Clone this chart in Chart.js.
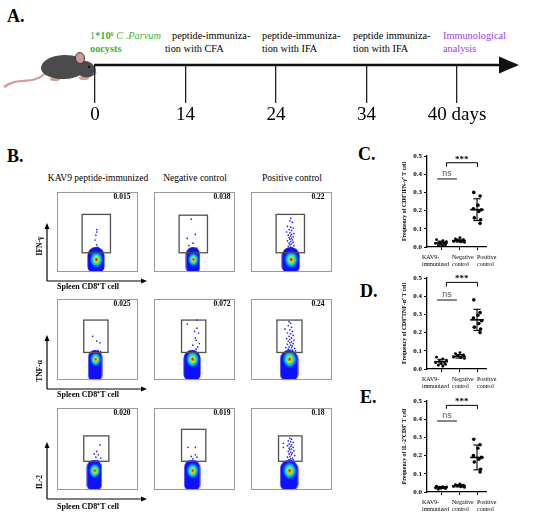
<!DOCTYPE html>
<html>
<head>
<meta charset="utf-8">
<script src="https://cdn.jsdelivr.net/npm/chart.js@4.4.1/dist/chart.umd.min.js"></script>
<style>
  body { margin: 0; background: #fff; }
  #fig { position: relative; width: 550px; height: 516px; overflow: hidden; font-family: "Liberation Serif", "Times New Roman", serif; color: #000; }
  #fig canvas { position: absolute; }
  .t { position: absolute; white-space: nowrap; line-height: 1; }
  .panel { font-weight: bold; font-size: 18px; }
  .ev { font-size: 10.3px; }
  .green { color: #35b535; }
  .purple { color: #9a3cf5; }
  .freq { font-weight: bold; font-size: 7.5px; transform: translateX(-50%); }
  .coltitle { font-size: 9.5px; transform: translateX(-50%); }
  .ylab { font-weight: bold; font-size: 7.5px; transform: translate(-50%, -50%) rotate(-90deg); }
  .xlab { font-weight: bold; font-size: 8px; }
</style>
</head>
<body>
<div id="fig">
  <div class="t panel" style="left:7px;top:7px">A.</div>
  <div class="t ev green" style="left:90px;top:31px">1<b>*10⁶</b> <i>C .Parvum</i></div>
  <div class="t ev green" style="left:90px;top:44px"><b>oocysts</b></div>
  <div class="t ev" style="left:172px;top:31px">peptide-immuniza-</div>
  <div class="t ev" style="left:165px;top:44px">tion with CFA</div>
  <div class="t ev" style="left:262px;top:31px">peptide-immuniza-</div>
  <div class="t ev" style="left:262px;top:44px">tion with IFA</div>
  <div class="t ev" style="left:353px;top:31px">peptide immuniza-</div>
  <div class="t ev" style="left:353px;top:44px">tion with IFA</div>
  <div class="t ev purple" style="left:443px;top:31px">Immunological</div>
  <div class="t ev purple" style="left:443px;top:44px">analysis</div>

  <div class="t panel" style="left:7px;top:147px">B.</div>
  <div class="t panel" style="left:358px;top:145px">C.</div>
  <div class="t panel" style="left:360px;top:282px">D.</div>
  <div class="t panel" style="left:360px;top:388px">E.</div>
</div>
<script>
// ---------- data ----------
// A: timeline (days)
var timeLabels = ['0', '14', '24', '34', '40 days'];

// B: flow cytometry
var flowCols = ['KAV9 peptide-immunized', 'Negative control', 'Positive control'];
var flowRows = ['IFN-γ', 'TNF-α', 'IL-2'];
var flowFreq = ['0.015', '0.038', '0.22', '0.025', '0.072', '0.24', '0.020', '0.019', '0.18'];
// gate: xmin, xmax, ymin, ymax (0-100 plot units)
var flowGates = [
  [31, 66, 24, 72], [31, 66, 24, 71], [31, 66, 24, 72],
  [33, 63, 34, 74], [34, 64, 34, 74], [32, 63, 34, 74],
  [33, 64, 35, 66], [34, 64, 35, 74], [34, 63, 35, 66]
];
// centre of the dense population
var flowCentres = [
  [48, 15], [48, 15], [49, 15],
  [47, 18], [47, 18], [47, 18],
  [46, 18], [47, 18], [47, 18]
];
// events inside the gate
var flowEvents = [
  [[49,53],[49,50],[48,46],[47,40],[49,34],[50,31],[48,28],[51,27]],
  [[46,66],[41,42],[51,47],[48,36],[53,30],[50,28],[43,33],[54,26]],
  [[49,67],[48,64],[51,62],[45,57],[49,56],[52,55],[47,53],[50,52],[44,50],[48,49],[53,48],[50,47],[46,46],[49,45],
   [52,44],[47,43],[50,42],[48,41],[51,40],[45,39],[49,38],[52,37],[47,36],[50,35],[48,34],[53,33],[46,32],[49,31],
   [51,30],[44,29],[48,28],[50,27],[53,26],[46,26],[49,25],[42,27],[55,28]],
  [[44,54],[49,48],[53,46],[51,36],[54,35],[47,36]],
  [[41,69],[53,74],[53,64],[55,58],[52,49],[56,45],[48,43],[54,41],[52,38],[49,36],[51,52],[50,60]],
  [[47,72],[49,70],[46,67],[50,65],[42,63],[48,62],[51,60],[45,58],[49,57],[52,55],[47,54],[50,52],[44,51],[48,50],
   [53,49],[46,48],[50,47],[48,46],[52,45],[45,44],[49,43],[51,42],[47,41],[50,40],[54,39],[46,38],[48,37],[51,37],
   [44,36],[49,35],[52,35],[47,34],[55,36],[43,40]],
  [[53,55],[49,47],[46,44],[51,43],[48,40],[54,39],[50,36]],
  [[42,52],[51,52],[51,43],[46,41],[53,40],[48,38]],
  [[40,57],[40,52],[48,63],[50,62],[46,60],[49,59],[52,58],[47,56],[50,55],[45,54],[49,53],[52,52],[47,51],[50,50],
   [48,49],[53,48],[46,47],[49,46],[51,45],[47,44],[50,43],[54,42],[48,41],[45,40],[51,39],[49,38],[47,37],[52,37],
   [50,36],[46,35],[53,35]]
];

// C-E: frequency per mouse
var groupNames = [['KAV9-', 'immunized'], ['Negative', 'control'], ['Positive', 'control']];
var kav9C = [0.040, 0.035, 0.030, 0.025, 0.022, 0.020, 0.015, 0.012, 0.008, 0.005];
var negC  = [0.052, 0.045, 0.040, 0.036, 0.033, 0.030, 0.028, 0.025];
var posC  = [0.300, 0.280, 0.230, 0.210, 0.205, 0.195, 0.160, 0.150, 0.130];
var meanC = [0.022, 0.035, 0.205];
var sdC   = [0.010, 0.008, 0.060];

var kav9D = [0.065, 0.055, 0.048, 0.042, 0.038, 0.035, 0.030, 0.025, 0.020, 0.015];
var negD  = [0.090, 0.085, 0.078, 0.072, 0.068, 0.065, 0.062, 0.058];
var posD  = [0.380, 0.310, 0.295, 0.280, 0.265, 0.250, 0.230, 0.220, 0.200];
var meanD = [0.040, 0.070, 0.270];
var sdD   = [0.013, 0.010, 0.058];

var kav9E = [0.032, 0.030, 0.028, 0.026, 0.024, 0.022, 0.020, 0.018, 0.015];
var negE  = [0.045, 0.040, 0.037, 0.034, 0.032, 0.030, 0.028, 0.025];
var posE  = [0.290, 0.260, 0.240, 0.200, 0.190, 0.180, 0.165, 0.125, 0.110];
var meanE = [0.025, 0.034, 0.190];
var sdE   = [0.005, 0.006, 0.068];

// horizontal scatter of dots around each group
var jitter = [
  [-0.25, 0.1, 0.3, -0.1, 0.2, -0.3, 0.0, 0.25, -0.15, 0.1],
  [0.05, -0.2, 0.25, -0.1, 0.2, -0.3, 0.1, 0.3],
  [-0.18, 0.17, 0.05, -0.2, 0.25, 0.1, -0.15, 0.2, 0.17]
];

// ---------- helpers ----------
var fig = document.getElementById('fig');
var serif = 'Liberation Serif';

function addCanvas(left, top, w, h) {
  var c = document.createElement('canvas');
  c.width = w; c.height = h;
  c.style.left = left + 'px'; c.style.top = top + 'px';
  fig.appendChild(c);
  return c;
}
function addText(cls, left, top, txt) {
  var d = document.createElement('div');
  d.className = 't ' + cls;
  d.style.left = left + 'px'; d.style.top = top + 'px';
  d.textContent = txt;
  fig.appendChild(d);
}

// ---------- A: timeline ----------
var timelinePlugin = {
  id: 'timeline',
  beforeDraw: function (chart) {
    var ctx = chart.ctx;
    // mouse
    ctx.save();
    ctx.strokeStyle = '#d59c94'; ctx.lineWidth = 2.2;
    ctx.beginPath(); ctx.moveTo(46, 28); ctx.bezierCurveTo(30, 42, 20, 30, 4, 42); ctx.stroke();
    ctx.fillStyle = '#d59c94';
    ctx.beginPath(); ctx.ellipse(55, 34, 5, 2, 0, 0, Math.PI * 2); ctx.fill();
    ctx.beginPath(); ctx.ellipse(84, 33, 5, 2, 0, 0, Math.PI * 2); ctx.fill();
    ctx.fillStyle = '#4b4b4e';
    ctx.beginPath(); ctx.ellipse(64, 22, 23, 12, -0.05, 0, Math.PI * 2); ctx.fill();
    ctx.beginPath(); ctx.ellipse(85, 24, 11, 8, 0.3, 0, Math.PI * 2); ctx.fill();
    ctx.fillStyle = '#c99c96'; ctx.strokeStyle = '#3a3a3a'; ctx.lineWidth = 1;
    ctx.beginPath(); ctx.ellipse(80, 13, 4.5, 5.5, -0.2, 0, Math.PI * 2); ctx.fill(); ctx.stroke();
    ctx.fillStyle = '#111';
    ctx.beginPath(); ctx.arc(89, 22, 1.2, 0, Math.PI * 2); ctx.fill();
    ctx.fillStyle = '#d59c94';
    ctx.beginPath(); ctx.arc(95, 28, 1.6, 0, Math.PI * 2); ctx.fill();
    ctx.restore();
  },
  afterDraw: function (chart) {
    var ctx = chart.ctx, a = chart.chartArea, y = a.bottom;
    ctx.save();
    ctx.strokeStyle = '#111'; ctx.fillStyle = '#111'; ctx.lineWidth = 2.6;
    ctx.beginPath(); ctx.moveTo(a.left - 1, y); ctx.lineTo(504, y); ctx.stroke();
    ctx.beginPath(); ctx.moveTo(499, y - 8.5); ctx.lineTo(519, y); ctx.lineTo(499, y + 8.5); ctx.closePath(); ctx.fill();
    ctx.restore();
  }
};

new Chart(addCanvas(0, 45, 550, 90), {
  type: 'line',
  data: { labels: timeLabels, datasets: [] },
  options: {
    responsive: false, animation: false, events: [],
    layout: { padding: { left: 95, right: 93, top: 0, bottom: 0 } },
    plugins: { legend: { display: false }, tooltip: { enabled: false } },
    scales: {
      x: {
        type: 'category', offset: false,
        grid: { drawOnChartArea: false, drawTicks: true, tickLength: 38, color: '#222', lineWidth: 1.3 },
        border: { display: false },
        ticks: { color: '#000', font: { family: serif, size: 19 }, padding: 1, maxRotation: 0, autoSkip: false },
        afterFit: function (s) { s.height = 70; }
      },
      y: { display: false, min: 0, max: 1 }
    }
  },
  plugins: [timelinePlugin]
});

// ---------- B: flow plots ----------
var boxLeft = [52, 149, 246];
var boxTop = [187, 294, 403];
var boxH = [90, 91, 92];
var blobSize = [[18, 26], [15, 26], [19, 26], [15, 31], [18, 31], [19, 31], [16, 31], [17, 31], [19, 31]];
var blobCore = [0.48, 0.3, 0.35];

function makeBlob(w, h, core) {
  var c = document.createElement('canvas');
  c.width = w; c.height = h;
  var g = c.getContext('2d');
  g.fillStyle = '#1010ff';
  g.beginPath();
  if (g.roundRect) g.roundRect(0.5, 0, w - 1, h, [w * 0.5, w * 0.5, w * 0.38, w * 0.38]);
  else g.ellipse(w / 2, h / 2, w / 2, h / 2, 0, 0, Math.PI * 2);
  g.fill();
  var r = w * 0.4;
  g.save();
  g.translate(w / 2 + 0.5, h * core);
  g.scale(1, 1.25);
  var grad = g.createRadialGradient(0, 0, 0, 0, 0, r);
  grad.addColorStop(0, '#ff0000');
  grad.addColorStop(0.12, '#ff3000');
  grad.addColorStop(0.24, '#ffd000');
  grad.addColorStop(0.36, '#60ff40');
  grad.addColorStop(0.52, '#00e0e0');
  grad.addColorStop(0.72, '#0080ff');
  grad.addColorStop(1, 'rgba(16,16,255,0)');
  g.fillStyle = grad;
  g.beginPath(); g.arc(0, 0, r, 0, Math.PI * 2); g.fill();
  g.restore();
  return c;
}

var gatePlugin = {
  id: 'gate',
  afterDatasetsDraw: function (chart, args, o) {
    var ctx = chart.ctx, x = chart.scales.x, y = chart.scales.y, gt = o.box;
    var x1 = x.getPixelForValue(gt[0]), x2 = x.getPixelForValue(gt[1]);
    var y1 = y.getPixelForValue(gt[3]), y2 = y.getPixelForValue(gt[2]);
    ctx.save();
    ctx.strokeStyle = '#505050'; ctx.lineWidth = 1.3;
    ctx.strokeRect(x1, y1, x2 - x1, y2 - y1);
    ctx.restore();
  },
  afterDraw: function (chart) {
    var ctx = chart.ctx, a = chart.chartArea;
    ctx.save();
    ctx.strokeStyle = '#9a9a9a'; ctx.lineWidth = 1;
    ctx.strokeRect(a.left + 0.5, a.top + 0.5, a.right - a.left - 1, a.bottom - a.top - 1);
    ctx.restore();
  }
};

flowCols.forEach(function (name, c) {
  addText('coltitle', boxLeft[c] + 46, 174, name);
});

flowFreq.forEach(function (f, i) {
  var r = Math.floor(i / 3), c = i % 3;
  var cv = addCanvas(boxLeft[c], boxTop[r], 91, boxH[r]);
  new Chart(cv, {
    type: 'scatter',
    data: {
      datasets: [
        { data: [{ x: flowCentres[i][0], y: flowCentres[i][1] }],
          pointStyle: makeBlob(blobSize[i][0], blobSize[i][1], blobCore[r]), pointRadius: 4 },
        { data: flowEvents[i].map(function (p) { return { x: p[0], y: p[1] }; }),
          pointRadius: 0.85, pointBackgroundColor: '#2222ff', pointBorderWidth: 0 }
      ]
    },
    options: {
      responsive: false, animation: false, events: [],
      layout: { padding: 0 },
      plugins: { legend: { display: false }, tooltip: { enabled: false }, gate: { box: flowGates[i] } },
      scales: {
        x: { display: false, min: 0, max: 100 },
        y: { display: false, min: 0, max: 100 }
      }
    },
    plugins: [gatePlugin]
  });
  addText('freq', boxLeft[c] + [70, 73, 72][c], boxTop[r] + 6, f);
});

// axis arrows of the first column
var arrowTop = [223, 335, 442];
var arrowBottom = [281, 389, 499];
var ns = 'http://www.w3.org/2000/svg';
var svg = document.createElementNS(ns, 'svg');
svg.setAttribute('width', 550); svg.setAttribute('height', 516);
svg.style.position = 'absolute'; svg.style.left = '0'; svg.style.top = '0';
function svgEl(tag, attrs) {
  var e = document.createElementNS(ns, tag);
  for (var k in attrs) e.setAttribute(k, attrs[k]);
  svg.appendChild(e);
}
flowRows.forEach(function (lab, r) {
  var yb = arrowBottom[r], yt = arrowTop[r];
  svgEl('line', { x1: 47, y1: yb, x2: 47, y2: yt + 5, stroke: '#000', 'stroke-width': 1.2 });
  svgEl('polygon', { points: '44.5,' + (yt + 6) + ' 47,' + yt + ' 49.5,' + (yt + 6), fill: '#000' });
  svgEl('line', { x1: 47, y1: yb, x2: 142, y2: yb, stroke: '#000', 'stroke-width': 1.2 });
  svgEl('polygon', { points: '141,' + (yb - 2.5) + ' 147,' + yb + ' 141,' + (yb + 2.5), fill: '#000' });
});
fig.appendChild(svg);

var ylabCentre = [246, 371, 482];
flowRows.forEach(function (lab, r) {
  addText('ylab', 40, ylabCentre[r], lab);
});
var xlabTop = [283, 391, 503];
xlabTop.forEach(function (t) { addText('xlab', 57, t, 'Spleen CD8⁺T cell'); });

// ---------- C-E: dot plots ----------
// group labels are set left-aligned, shifted from their tick (px)
var groupLabelShift = [-19, -7, 0];

var statsPlugin = {
  id: 'stats',
  afterDatasetsDraw: function (chart, args, o) {
    var ctx = chart.ctx, x = chart.scales.x, y = chart.scales.y;
    function seg(x1, y1, x2, y2) { ctx.beginPath(); ctx.moveTo(x1, y1); ctx.lineTo(x2, y2); ctx.stroke(); }
    ctx.save();
    ctx.strokeStyle = '#000';
    o.means.forEach(function (m, i) {
      var g = i + 1, cx = x.getPixelForValue(g);
      ctx.lineWidth = 1.6;
      seg(x.getPixelForValue(g - 0.38), y.getPixelForValue(m), x.getPixelForValue(g + 0.38), y.getPixelForValue(m));
      ctx.lineWidth = 1.1;
      var top = y.getPixelForValue(m + o.sds[i]), bot = y.getPixelForValue(m - o.sds[i]);
      seg(cx, top, cx, bot);
      seg(x.getPixelForValue(g - 0.2), top, x.getPixelForValue(g + 0.2), top);
      seg(x.getPixelForValue(g - 0.2), bot, x.getPixelForValue(g + 0.2), bot);
    });
    // ns
    var ny = y.getPixelForValue(o.nsY);
    ctx.strokeStyle = '#6a6a6a'; ctx.lineWidth = 1.6;
    seg(x.getPixelForValue(0.78), ny, x.getPixelForValue(1.88), ny);
    ctx.fillStyle = '#555'; ctx.font = '9px "Liberation Sans"'; ctx.textAlign = 'center'; ctx.textBaseline = 'alphabetic';
    ctx.fillText('ns', x.getPixelForValue(1.33), ny - 3);
    // *** bracket
    var by = y.getPixelForValue(o.barY), ly = y.getPixelForValue(o.legY);
    var bx1 = x.getPixelForValue(1.3), bx2 = x.getPixelForValue(3.03);
    ctx.strokeStyle = '#000'; ctx.lineWidth = 1;
    ctx.beginPath(); ctx.moveTo(bx1, ly); ctx.lineTo(bx1, by); ctx.lineTo(bx2, by); ctx.lineTo(bx2, ly); ctx.stroke();
    ctx.fillStyle = '#000'; ctx.font = 'bold 9px "Liberation Serif"';
    ctx.fillText('***', x.getPixelForValue(2.15), by - 1);
    // group labels under the axis
    var base = y.getPixelForValue(0);
    ctx.font = '6px "Liberation Serif"'; ctx.textAlign = 'left'; ctx.textBaseline = 'middle';
    groupNames.forEach(function (lines, i) {
      var lx = x.getPixelForValue(i + 1) + groupLabelShift[i];
      lines.forEach(function (s, k) { ctx.fillText(s, lx, base + 10 + k * 7); });
    });
    ctx.restore();
  }
};

function dotPlot(top, title, groups, means, sds, sig) {
  var cv = addCanvas(400, top, 100, 125);
  var datasets = groups.map(function (vals, g) {
    return {
      data: vals.map(function (v, i) { return { x: g + 1 + jitter[g][i], y: v }; }),
      pointRadius: g === 2 ? 1.8 : 1.4, pointBackgroundColor: '#000', pointBorderWidth: 0
    };
  });
  new Chart(cv, {
    type: 'scatter',
    data: { datasets: datasets },
    options: {
      responsive: false, animation: false, events: [],
      layout: { padding: { top: 10, right: 14, left: 0, bottom: 0 } },
      plugins: {
        legend: { display: false }, tooltip: { enabled: false },
        stats: { means: means, sds: sds, nsY: sig[0], barY: sig[1], legY: sig[2] }
      },
      scales: {
        x: {
          type: 'linear', min: 0.22, max: 3.5,
          afterBuildTicks: function (s) { s.ticks = groupNames.map(function (n, i) { return { value: i + 1 }; }); },
          ticks: { display: false },
          grid: { drawOnChartArea: false, drawTicks: true, tickLength: 3, color: '#000', lineWidth: 1 },
          border: { color: '#000', width: 1.3 },
          afterFit: function (s) { s.height = 24; }
        },
        y: {
          min: 0, max: 0.5,
          ticks: {
            stepSize: 0.1, callback: function (v) { return v.toFixed(1); },
            font: { family: serif, size: 7, weight: 'bold' }, color: '#000', padding: 2
          },
          grid: { drawOnChartArea: false, tickLength: 3, color: '#000', lineWidth: 1 },
          border: { color: '#000', width: 1.3 },
          title: { display: true, text: title, font: { family: serif, size: 5.8, weight: 'bold' }, color: '#000', padding: { top: 1, bottom: 1 } },
          afterFit: function (s) { s.width = 27; }
        }
      }
    },
    plugins: [statsPlugin]
  });
}

dotPlot(146, 'Frequency of CD8⁺IFN-γ⁺ T cell', [kav9C, negC, posC], meanC, sdC, [0.374, 0.463, 0.44]);
dotPlot(268, 'Frequency of CD8⁺TNF-α⁺ T cell', [kav9D, negD, posD], meanD, sdD, [0.379, 0.476, 0.453]);
dotPlot(391, 'Frequency of IL-2⁺CD8⁺ T cell', [kav9E, negE, posE], meanE, sdE, [0.39, 0.476, 0.457]);
</script>
</body>
</html>
